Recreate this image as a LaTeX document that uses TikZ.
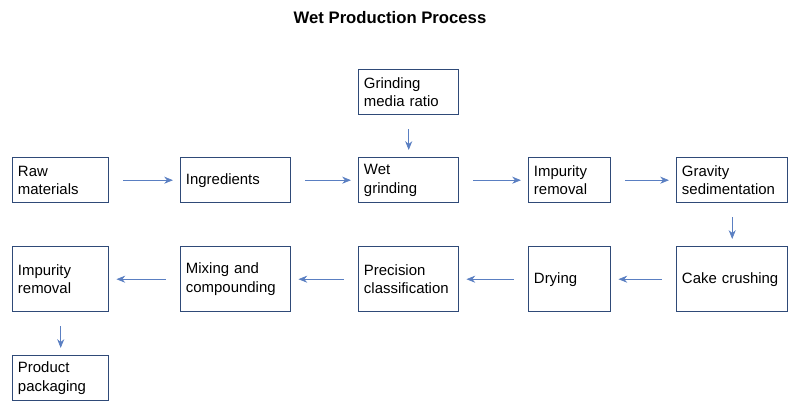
\documentclass[tikz,border=0pt]{standalone}
\usepackage{fontspec}
\setmainfont{Liberation Sans}
\usetikzlibrary{arrows.meta}
\definecolor{boxline}{HTML}{2F4A78}
\definecolor{arrowline}{HTML}{5A7FC2}
\tikzset{
  stage/.style={draw=boxline, thick, rectangle, inner sep=3pt, align=left,
    font=\fontsize{8.5}{10.5}\selectfont, anchor=north west},
  flow/.style={draw=arrowline, -{Stealth[length=5pt,width=4pt]}, shorten <=8pt, shorten >=4pt}
}
\newcommand{\stagebox}[6]{% name, x1, y1, x2, y2, text
  \node[stage, minimum width={(#4-#2)*0.02cm}, minimum height={(#5-#3)*0.02cm},
    text width={(#4-#2)*0.02cm-6pt}] (#1) at (#2,#3) {#6};}
\begin{document}
\begin{tikzpicture}[x=0.02cm,y=-0.02cm]
			\useasboundingbox (0,0) rectangle (800,411);
			\node[font=\fontsize{9.5}{11}\selectfont\bfseries] (title) at (390,18) {Wet Production Process};

			% first row
			\stagebox{raw}{12}{157}{108}{202}{Raw\\materials}
			\stagebox{ingr}{180}{157}{290}{202}{Ingredients}
			\stagebox{wet}{358}{157}{458}{202}{Wet\\grinding}
			\stagebox{imp}{528}{157}{610}{202}{Impurity\\removal}
			\stagebox{grav}{676}{157}{787}{202}{Gravity\\sedimentation}
			\stagebox{media}{358}{69}{458}{114}{Grinding\\media ratio}

			% second row
			\stagebox{cake}{676}{246}{787}{311}{Cake crushing}
			\stagebox{dry}{528}{246}{610}{311}{Drying}
			\stagebox{prec}{358}{246}{458}{311}{Precision\\classification}
			\stagebox{mix}{180}{246}{290}{311}{Mixing and\\compounding}
			\stagebox{imp2}{12}{246}{108}{311}{Impurity\\removal}
			\stagebox{pack}{12}{355}{108}{400}{Product\\packaging}

			\draw[flow] (raw) -- (ingr);
			\draw[flow] (ingr) -- (wet);
			\draw[flow] (wet) -- (imp);
			\draw[flow] (imp) -- (grav);
			\draw[flow] (media) -- (wet);
			\draw[flow] (grav) -- (cake);
			\draw[flow] (cake) -- (dry);
			\draw[flow] (dry) -- (prec);
			\draw[flow] (prec) -- (mix);
			\draw[flow] (mix) -- (imp2);
			\draw[flow] (imp2) -- (pack);
\end{tikzpicture}
\end{document}
